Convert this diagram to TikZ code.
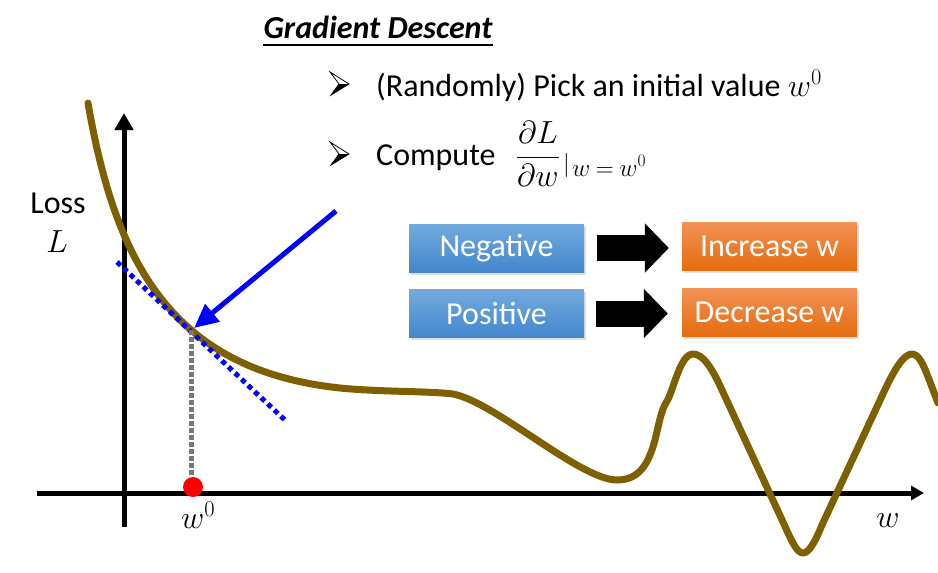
\RequirePackage{fix-cm}
\documentclass[tikz,border=0pt]{standalone}
\usepackage{amsmath}
\usepackage{fontspec}
\setmainfont{Carlito}
\usetikzlibrary{arrows.meta,shadows}
\definecolor{curvec}{RGB}{127,96,0}
\definecolor{blueT}{RGB}{114,170,222}
\definecolor{blueB}{RGB}{66,135,205}
\definecolor{oraT}{RGB}{243,145,85}
\definecolor{oraB}{RGB}{228,108,14}
\definecolor{dashgray}{RGB}{120,120,120}
\begin{document}
\begin{tikzpicture}[x=1pt,y=-1pt,
  txt/.style={inner sep=0pt, font=\fontsize{32}{38}\selectfont},
  mlab/.style={inner sep=0pt, font=\fontsize{32}{38}\selectfont},
  box/.style={minimum width=175, minimum height=48, inner sep=0pt, text=white,
    font=\fontsize{32}{38}\selectfont,
    drop shadow={shadow xshift=1.5pt, shadow yshift=-2.5pt, opacity=0.25}},
  negbox/.style={box, top color=blueT, bottom color=blueB},
  posbox/.style={box, top color=oraT, bottom color=oraB},
  fat/.style={line width=26, -{Triangle[length=24pt,width=48pt]}},
  vaxis/.style={line width=5, -{Triangle[length=17pt,width=18pt]}},
  haxis/.style={line width=5, -{Triangle[length=13pt,width=14pt]}},
  losscurve/.style={curvec, line width=7, line cap=round, line join=round},
  tangent/.style={blue, line width=5, dash pattern=on 5pt off 4pt},
  guide/.style={dashgray, line width=5, dash pattern=on 5pt off 2pt},
  pointer/.style={blue, line width=5, -{Triangle[length=24pt,width=22pt]}},
  pics/arrowbullet/.style={code={
    \fill[black] (9,12) -- (19,12) -- (1,23) -- cycle;
    \draw[black, line width=0.8, line join=miter] (9,12) -- (0,0) -- (19,12) -- (1,23) -- cycle;
  }}
]
\useasboundingbox (0,0) rectangle (938,573);

% title and bullets
\node[txt, anchor=base, font=\fontsize{32}{38}\selectfont\bfseries\itshape] (title) at (378,38) {Gradient Descent};
\draw[line width=1.2] ([yshift=-7pt]title.base west) -- ([yshift=-7pt]title.base east);

\pic at (330,72) {arrowbullet};
\node[txt, anchor=base west] (l1) at (376,96) {(Randomly) Pick an initial value $w^0$};
\pic at (330,142) {arrowbullet};
\node[txt, anchor=base west] (l2) at (376,165) {Compute};
\node[txt, anchor=base] (frac) at (538,165) {$\dfrac{\partial L}{\partial w}$};
\node[inner sep=0pt, anchor=base west, font=\fontsize{24}{28}\selectfont] (bar) at (563,171) {$|$};
\node[inner sep=0pt, anchor=base west, font=\fontsize{25}{30}\selectfont] (sub) at (572,176) {$w\mskip-1mu=\mskip-1mu w^0$};

% boxes
\node[negbox] (neg) at (496.5,248) {Negative};
\node[negbox] (pos) at (496.5,313.5) {Positive};
\node[posbox] (inc) at (769.5,246.5) {Increase w};
\node[posbox] (dec) at (769.5,312.5) {Decrease w};
\draw[fat] ([xshift=13]neg.east) -- ([xshift=-13]inc.west |- neg.east);
\draw[fat] ([xshift=12]pos.east) -- ([xshift=-14]dec.west |- pos.east);

% axes
\coordinate (yb) at (124,527);
\coordinate (yt) at (124,113);
\coordinate (xl) at (37,493);
\coordinate (xr) at (924,493);
\draw[vaxis] (yb) -- (yt);
\draw[haxis] (xl) -- (xr);

% loss curve
\draw[losscurve] (88,103) .. controls (115,260) and (170,370) .. (340,388)
  .. controls (380,392) and (430,391) .. (453,394)
  .. controls (495,402) and (580,480) .. (617,480)
  .. controls (638,480) and (648,466) .. (655,440)
  .. controls (659,424) and (661,410) .. (667,401)
  .. controls (673,392) and (680,354) .. (693,354)
  .. controls (703,354) and (712,368) .. (722,390)
  -- (783,522)
  .. controls (792,542) and (797,553) .. (803,553)
  .. controls (809,553) and (815,542) .. (822,525)
  -- (882,396)
  .. controls (893,372) and (903,354) .. (912,354)
  .. controls (921,354) and (926,372) .. (938,403);

% tangent, guide, point
\coordinate (t1) at (117,262);
\coordinate (t2) at (287,422);
\draw[tangent] (t1) -- (t2);
\coordinate (tp) at (191,330);
\node[circle, fill=red, minimum size=20, inner sep=0pt] (dot) at (193,487) {};
\draw[guide] (tp) -- ([yshift=2pt]dot.north -| tp);
\coordinate (ps) at (336,211);
\coordinate (pe) at (194,328);
\draw[pointer] (ps) -- (pe);

% labels
\node[txt, anchor=base] (loss) at (58,213) {Loss};
\node[mlab, anchor=base] (Llab) at (57,252) {$L$};
\node[mlab, anchor=base west] (w0) at (181,528) {$w^0$};
\node[mlab, anchor=base] (wlab) at (888,527) {$w$};
\end{tikzpicture}
\end{document}
